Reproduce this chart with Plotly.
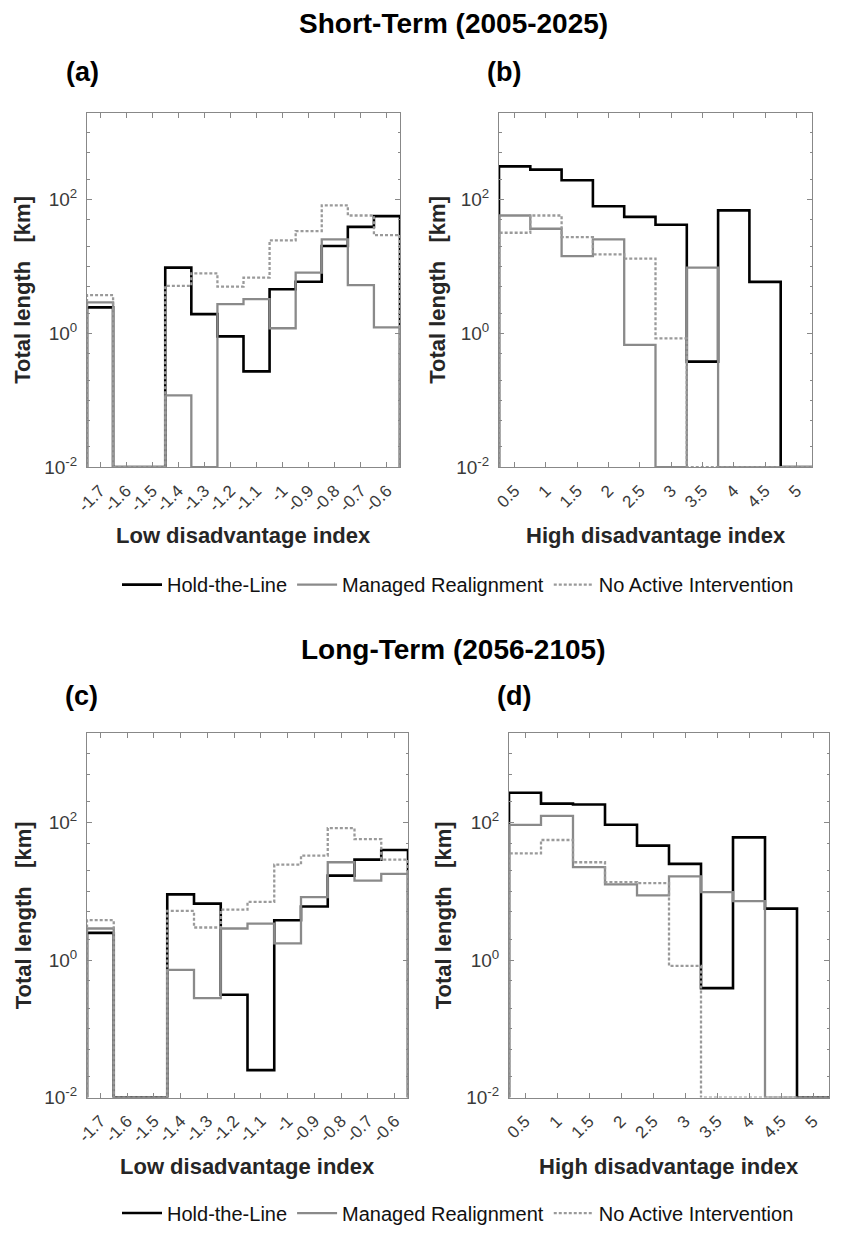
import numpy as np
import plotly.graph_objects as go

# ---------------- data ----------------
low_centers = [-1.7, -1.6, -1.5, -1.4, -1.3, -1.2, -1.1, -1.0, -0.9, -0.8, -0.7, -0.6]
low_width = 0.1
low_ticklabels = ["-1.7", "-1.6", "-1.5", "-1.4", "-1.3", "-1.2", "-1.1", "-1", "-0.9", "-0.8", "-0.7", "-0.6"]

high_centers = [0.5, 1.0, 1.5, 2.0, 2.5, 3.0, 3.5, 4.0, 4.5, 5.0]
high_width = 0.5
high_ticklabels = ["0.5", "1", "1.5", "2", "2.5", "3", "3.5", "4", "4.5", "5"]

# Short-term, low disadvantage (a)
a_htl = [2.44, 0.01, 0.01, 9.6, 1.94, 0.90, 0.27, 4.57, 5.9, 20.2, 39, 56.5]
a_mr = [2.9, 0.01, 0.01, 0.118, 0.01, 2.73, 3.24, 1.19, 8.1, 25.4, 5.24, 1.23]
a_nai = [3.72, 0.01, 0.01, 5.13, 7.9, 5.0, 6.8, 24.5, 33.8, 82, 57.8, 29.4]

# Short-term, high disadvantage (b)
b_htl = [313, 280, 194, 79.6, 55, 42, 0.378, 69, 5.88, 0.01]
b_mr = [57.8, 36.6, 14.3, 25.4, 0.67, 0.01, 9.6, 0.01, 0.01, 0.01]
b_nai = [31.9, 57.8, 27.5, 15.2, 13.1, 0.84, 0.01, 0.01, 0.01, 0.01]

# Long-term, low disadvantage (c)
c_htl = [2.48, 0.01, 0.01, 9.0, 6.6, 0.312, 0.025, 3.79, 6.0, 16.9, 28.8, 39.8]
c_mr = [2.87, 0.01, 0.01, 0.717, 0.279, 2.87, 3.39, 1.74, 8.2, 26.4, 14.3, 17.9]
c_nai = [3.79, 0.01, 0.01, 5.17, 2.97, 5.4, 7.0, 24.4, 33, 82.8, 57.4, 28.8]

# Long-term, high disadvantage (d)
d_htl = [271, 188, 183, 92.5, 46, 25, 0.39, 60.7, 5.58, 0.01]
d_mr = [92.5, 125, 22.4, 12.6, 8.7, 16.4, 9.7, 7.2, 0.01, 0.01]
d_nai = [35.6, 55.6, 26.4, 13.6, 13.1, 0.82, 0.01, 0.01, 0.01, 0.01]

series_names = ["Hold-the-Line", "Managed Realignment", "No Active Intervention"]
floor_val = 0.01
y_max = 2000

# ---------------- styling ----------------
FONT = "Liberation Sans"
styles = [
    dict(color="#000000", width=2.6, dash="solid"),
    dict(color="#8a8a8a", width=2.3, dash="solid"),
    dict(color="#9a9a9a", width=2.3, dash="3px,2px"),
]
frame_col = "#888888"
tick_col = "#3a3a3a"
title_col = "#262626"

W, H = 853, 1233

def px2x(p):
    return p / W

def px2y(p):
    return 1 - p / H

panels = [
    ("", low_centers, low_width, low_ticklabels, [a_htl, a_mr, a_nai], (87, 400), (113, 469), "legend", True,
     "Low disadvantage index", 23),
    ("2", high_centers, high_width, high_ticklabels, [b_htl, b_mr, b_nai], (499, 812), (113, 469), "legend", False,
     "High disadvantage index", 438),
    ("3", low_centers, low_width, low_ticklabels, [c_htl, c_mr, c_nai], (87, 408), (736, 1102), "legend2", True,
     "Low disadvantage index", 23),
    ("4", high_centers, high_width, high_ticklabels, [d_htl, d_mr, d_nai], (509, 829), (736, 1102), "legend2", False,
     "High disadvantage index", 443),
]

fig = go.Figure()
layout_updates = {}
annotations = []

for ax, centers, width, tlabels, data, xr, yr, leg, showleg, xtitle, ytitle_x in panels:
    centers = np.array(centers)
    edges = np.concatenate([centers - width / 2, [centers[-1] + width / 2]])
    for i, vals in enumerate(data):
        xs = [edges[0]] + list(edges)
        ys = [floor_val] + list(vals) + [floor_val]
        st = styles[i]
        fig.add_trace(go.Scatter(
            x=xs, y=ys, mode="lines", line_shape="hv",
            line=dict(color=st["color"], width=st["width"], dash=st["dash"]),
            name=series_names[i], showlegend=showleg, legend=leg,
            xaxis="x" + ax, yaxis="y" + ax,
        ))
    layout_updates["xaxis" + ax] = dict(
        domain=[px2x(xr[0]), px2x(xr[1])],
        anchor="y" + ax, automargin=False,
        range=[edges[0], edges[-1]],
        tickmode="array", tickvals=list(centers), ticktext=tlabels,
        tickangle=-45, ticklabelstandoff=6,
        ticks="inside", ticklen=5, tickcolor=frame_col,
        showline=True, linecolor=frame_col, linewidth=1, mirror="ticks",
        showgrid=False, zeroline=False,
        tickfont=dict(family=FONT, size=17, color=tick_col),
    )
    layout_updates["yaxis" + ax] = dict(
        domain=[px2y(yr[1]), px2y(yr[0])],
        anchor="x" + ax, automargin=False,
        type="log",
        range=[np.log10(floor_val), np.log10(y_max)],
        tickmode="array", tickvals=[0.01, 1, 100],
        ticktext=["10<sup>-2</sup>", "10<sup>0</sup>", "10<sup>2</sup>"],
        ticks="inside", ticklen=5, tickcolor=frame_col, ticklabelstandoff=5,
        minor=dict(ticks="inside", ticklen=2.5, tickcolor=frame_col, showgrid=False),
        showline=True, linecolor=frame_col, linewidth=1, mirror="ticks",
        showgrid=False, zeroline=False,
        tickfont=dict(family=FONT, size=19, color=tick_col),
    )
    # axis titles as annotations
    annotations.append(dict(text="<b>" + xtitle + "</b>", x=px2x((xr[0] + xr[1]) / 2),
                            y=px2y(yr[1] + 69), font=dict(size=22, color=title_col)))
    annotations.append(dict(text="<b>Total length   [km]</b>", x=px2x(ytitle_x),
                            y=px2y((yr[0] + yr[1]) / 2), textangle=-90,
                            font=dict(size=22, color=title_col)))

fig.update_layout(**layout_updates)

annotations += [
    dict(text="<b>Short-Term (2005-2025)</b>", x=px2x(453), y=px2y(24), font=dict(size=28, color="#000")),
    dict(text="<b>Long-Term (2056-2105)</b>", x=px2x(453), y=px2y(652), font=dict(size=28, color="#000")),
    dict(text="<b>(a)</b>", x=px2x(82), y=px2y(72), font=dict(size=27, color="#000")),
    dict(text="<b>(b)</b>", x=px2x(504), y=px2y(72), font=dict(size=27, color="#000")),
    dict(text="<b>(c)</b>", x=px2x(81), y=px2y(699), font=dict(size=27, color="#000")),
    dict(text="<b>(d)</b>", x=px2x(514), y=px2y(699), font=dict(size=27, color="#000")),
]
for a in annotations:
    a.update(xref="paper", yref="paper", showarrow=False, xanchor="center", yanchor="middle")
    a["font"]["family"] = FONT
fig.update_layout(annotations=annotations)

legend_common = dict(orientation="h", xanchor="center", yanchor="middle",
                     font=dict(family=FONT, size=20, color="#111"),
                     bgcolor="rgba(0,0,0,0)", itemwidth=40, tracegroupgap=0)
fig.update_layout(
    width=W, height=H,
    margin=dict(l=0, r=0, t=0, b=0),
    paper_bgcolor="white", plot_bgcolor="white",
    legend=dict(x=px2x(458), y=px2y(587), **legend_common),
    legend2=dict(x=px2x(458), y=px2y(1218), **legend_common),
)

fig.write_html("out.html")
